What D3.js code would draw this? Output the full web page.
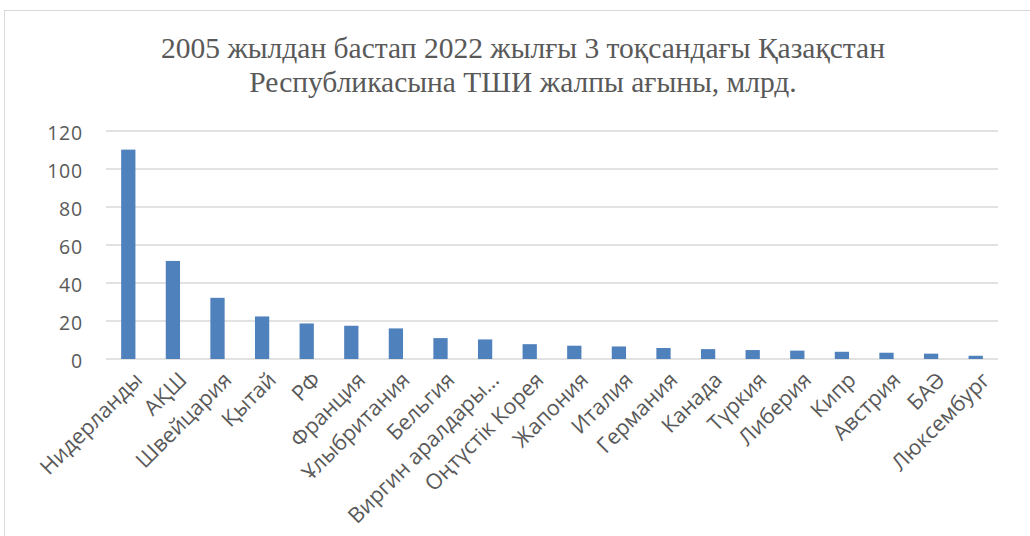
<!DOCTYPE html>
<html>
<head>
    <meta charset="UTF-8" />
    <script src="https://d3js.org/d3.v7.min.js"></script>
    <style>
        body { margin: 0; background: #fff; }
        svg { display: block; }
    </style>
</head>
<body>
<svg></svg>
<script>
    // Data
    const countries = ["Нидерланды", "АҚШ", "Швейцария", "Қытай", "РФ", "Франция", "Ұлыбритания",
        "Бельгия", "Виргин аралдары…", "Оңтүстік Корея", "Жапония", "Италия", "Германия", "Канада",
        "Түркия", "Либерия", "Кипр", "Австрия", "БАӘ", "Люксембург"];
    const values = [110.2, 51.6, 32.2, 22.4, 18.7, 17.5, 16.1, 11.0, 10.3, 7.8,
        7.0, 6.6, 5.8, 5.2, 4.7, 4.4, 3.8, 3.3, 2.8, 1.7];
    const yTicks = [0, 20, 40, 60, 80, 100, 120];
    const titleLines = ["2005 жылдан бастап 2022 жылғы 3 тоқсандағы Қазақстан",
        "Республикасына ТШИ жалпы ағыны, млрд."];

    const width = 1030, height = 536;
    const margin = { left: 106, right: 32, top: 131, bottom: 177 };

    const svg = d3.select("svg")
        .attr("width", width)
        .attr("height", height);

    // chart frame
    svg.append("rect")
        .attr("x", 4.5).attr("y", 10.5)
        .attr("width", width + 20).attr("height", height + 20)
        .attr("fill", "#fff")
        .attr("stroke", "#d9d9d9");

    // title
    svg.append("g").selectAll("text")
        .data(titleLines)
        .enter()
        .append("text")
        .attr("x", 523)
        .attr("y", (d, i) => 58 + i * 34)
        .attr("text-anchor", "middle")
        .style("font-family", "'Liberation Serif', 'DejaVu Serif', serif")
        .style("font-size", "29.5px")
        .attr("fill", "#595959")
        .text(d => d);

    const x = d3.scaleBand()
        .domain(countries)
        .range([margin.left, width - margin.right])
        .paddingInner(0.68)
        .paddingOuter(0.34);

    const y = d3.scaleLinear()
        .domain([0, 120])
        .range([height - margin.bottom, margin.top]);

    // gridlines
    svg.append("g")
        .selectAll("line")
        .data(yTicks)
        .enter()
        .append("line")
        .attr("x1", margin.left)
        .attr("x2", width - margin.right)
        .attr("y1", d => y(d))
        .attr("y2", d => y(d))
        .attr("stroke", "#d9d9d9")
        .attr("stroke-width", 1.5);

    // y axis labels
    const yAxis = svg.append("g")
        .attr("transform", "translate(" + (margin.left - 23) + ",2)")
        .call(d3.axisLeft(y).tickValues(yTicks).tickSize(0).tickPadding(0));
    yAxis.select(".domain").remove();
    yAxis.selectAll("text")
        .style("font-family", "'Open Sans', 'Noto Sans', sans-serif")
        .style("font-size", "19.5px")
        .style("letter-spacing", "0.8px")
        .attr("fill", "#595959");

    // bars
    svg.append("g")
        .selectAll("rect")
        .data(values)
        .enter()
        .append("rect")
        .attr("x", (d, i) => x(countries[i]))
        .attr("y", d => y(d))
        .attr("width", x.bandwidth())
        .attr("height", d => y(0) - y(d))
        .attr("fill", "#4f81bd");

    // x axis labels
    const xAxis = svg.append("g")
        .attr("transform", "translate(0," + (y(0) + 17) + ")")
        .call(d3.axisBottom(x).tickSize(0).tickPadding(0));
    xAxis.select(".domain").remove();
    xAxis.selectAll("text")
        .attr("text-anchor", "end")
        .attr("dy", "0.35em")
        .attr("transform", "translate(10,0) rotate(-45)")
        .style("font-family", "'Open Sans', 'Noto Sans', sans-serif")
        .style("font-size", "21.5px")
        .attr("fill", "#595959");
</script>
</body>
</html>
